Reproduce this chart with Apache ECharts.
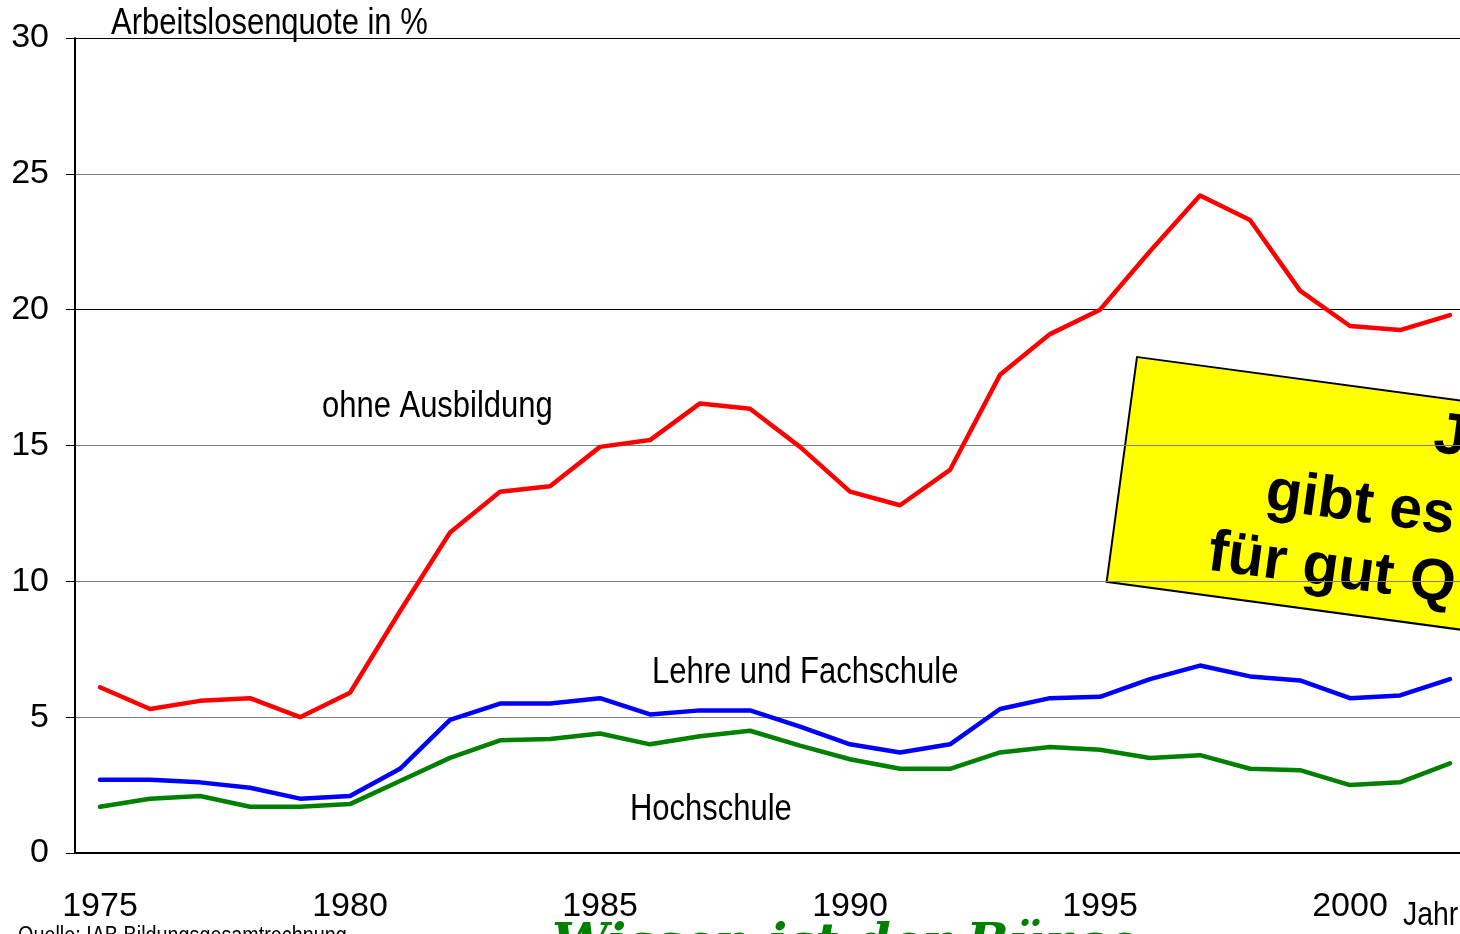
<!DOCTYPE html>
<html>
<head>
<meta charset="utf-8">
<script src="https://cdn.jsdelivr.net/npm/echarts@6/dist/echarts.min.js"></script>
<style>
  html, body { margin: 0; padding: 0; background: #fff; overflow: hidden; }
  #main { width: 1475px; height: 934px; }
</style>
</head>
<body>
<div id="main"></div>
<script>
// Jahre 1975 - 2002
var years = ["1975","1976","1977","1978","1979","1980","1981","1982","1983","1984",
  "1985","1986","1987","1988","1989","1990","1991","1992","1993","1994",
  "1995","1996","1997","1998","1999","2000","2001","2002"];

// Arbeitslosenquote in %
var ohneAusbildung = [6.1, 5.3, 5.6, 5.7, 5.0, 5.9, 8.9, 11.8, 13.3, 13.5,
  14.95, 15.2, 16.55, 16.35, 14.95, 13.3, 12.8, 14.1, 17.6, 19.1,
  20.0, 22.15, 24.2, 23.3, 20.7, 19.4, 19.25, 19.8];
var lehreFachschule = [2.7, 2.7, 2.6, 2.4, 2.0, 2.1, 3.1, 4.9, 5.5, 5.5,
  5.7, 5.1, 5.25, 5.25, 4.65, 4.0, 3.7, 4.0, 5.3, 5.7,
  5.75, 6.4, 6.9, 6.5, 6.35, 5.7, 5.8, 6.4];
var hochschule = [1.7, 2.0, 2.1, 1.7, 1.7, 1.8, 2.65, 3.5, 4.15, 4.2,
  4.4, 4.0, 4.3, 4.5, 3.95, 3.45, 3.1, 3.1, 3.7, 3.9,
  3.8, 3.5, 3.6, 3.1, 3.05, 2.5, 2.6, 3.3];

var yTicks = [0, 5, 10, 15, 20, 25, 30];

var FONT = '"Liberation Sans", Arial, sans-serif';
var BOXFONT = "bold 59px 'Liberation Sans', Arial, sans-serif";

var chartDom = document.getElementById("main");
var myChart = echarts.init(chartDom);

function line(name, data, color) {
  return {
    name: name,
    type: "line",
    data: data,
    symbol: "none",
    lineStyle: { color: color, width: 4.5, cap: "round", join: "round" },
  };
}

// narrow-looking label, like the original Arial Narrow
function label(text, x, y, size) {
  return {
    type: "text",
    x: x,
    y: y,
    scaleX: 0.86,
    style: { text: text, font: size + "px " + FONT, fill: "#000", textVerticalAlign: "middle" },
  };
}

var options = {
  backgroundColor: "#fff",
  animation: false,
  grid: { left: 75, top: 38, width: 1400, height: 815 },
  xAxis: {
    type: "category",
    data: years,
    boundaryGap: true,
    axisLine: { lineStyle: { color: "#000", width: 2 } },
    axisTick: { interval: 0, length: 9, lineStyle: { color: "#000", width: 1 } },
    axisLabel: {
      interval: function (idx, val) { return Number(val) % 5 === 0; },
      margin: 37,
      color: "#000",
      fontFamily: FONT,
      fontSize: 34,
    },
    splitLine: { show: false },
  },
  yAxis: {
    type: "value",
    min: yTicks[0],
    max: yTicks[yTicks.length - 1],
    interval: 5,
    axisLine: { show: true, lineStyle: { color: "#000", width: 2 } },
    axisTick: { show: true, length: 9, lineStyle: { color: "#000" } },
    axisLabel: {
      margin: 26,
      color: "#000",
      fontFamily: FONT,
      fontSize: 34,
    },
    splitLine: {
      show: true,
      lineStyle: {
        color: ["#808080", "#808080", "#808080", "#808080", "#000", "#808080", "#000"],
        width: 1,
      },
    },
  },
  series: [
    line("ohne Ausbildung", ohneAusbildung, "#ff0000"),
    line("Lehre und Fachschule", lehreFachschule, "#0000ff"),
    line("Hochschule", hochschule, "#008000"),
  ],
  graphic: [
    label("Arbeitslosenquote in %", 111, 24, 36),
    label("ohne Ausbildung", 322, 407, 36),
    label("Lehre und Fachschule", 652, 673, 36),
    label("Hochschule", 630, 810, 36),
    label("Jahr", 1403, 916, 33),
    label("Quelle: IAB Bildungsgesamtrechnung", 18, 937, 23),
    { type: "text", x: 552, y: 921, style: { text: "Wissen ist der Bürge", font: "italic bold 50px 'DejaVu Serif', serif", fill: "#008000" } },
    {
      type: "group",
      x: 1137,
      y: 357,
      rotation: -0.134,
      children: [
        { type: "rect", shape: { x: 0, y: 0, width: 620, height: 227 }, style: { fill: "#ffff00", stroke: "#000", lineWidth: 2 } },
        { type: "text", x: 305, y: 38, style: { text: "J", font: BOXFONT, fill: "#000", textVerticalAlign: "middle" } },
        { type: "text", x: 146, y: 117, style: { text: "gibt es", font: BOXFONT, fill: "#000", textVerticalAlign: "middle" } },
        { type: "text", x: 97, y: 185, style: { text: "für gut Q", font: BOXFONT, fill: "#000", textVerticalAlign: "middle" } },
      ],
    },
  ],
};

options && myChart.setOption(options);
</script>
</body>
</html>
